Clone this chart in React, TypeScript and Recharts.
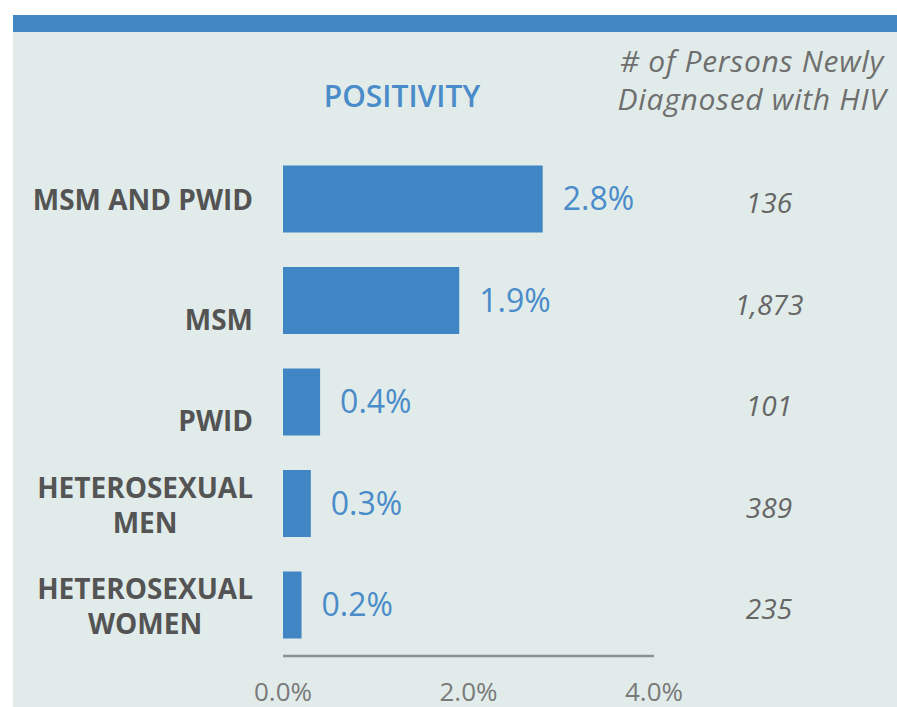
import React from "react";
import { BarChart, Bar, XAxis, YAxis, LabelList } from "recharts";

const categoryLines: string[][] = [
  ["MSM AND PWID"],
  ["", "MSM"],
  ["", "PWID"],
  ["HETEROSEXUAL", "MEN"],
  ["HETEROSEXUAL", "WOMEN"],
];
const positivity: number[] = [2.8, 1.9, 0.4, 0.3, 0.2];
const newlyDiagnosed: string[] = ["136", "1,873", "101", "389", "235"];
const xTicks: number[] = [0, 2, 4];
const headerPositivity = "POSITIVITY";
const headerCount: string[] = ["# of Persons Newly", "Diagnosed with HIV"];

const data = categoryLines.map((lines, i) => ({
  name: lines.join("|"),
  value: positivity[i],
  count: newlyDiagnosed[i],
}));

const FONT = "'Open Sans', 'Noto Sans', sans-serif";
const LABEL_FONT_SIZE = 28;

let ctx: CanvasRenderingContext2D | null = null;
function measure(text: string): number {
  if (!ctx) {
    const c = document.createElement("canvas");
    ctx = c.getContext("2d");
  }
  if (!ctx) return text.length * 18;
  ctx.font = `bold ${LABEL_FONT_SIZE}px 'Open Sans'`;
  return ctx.measureText(text).width;
}

const CategoryTick = (props: any) => {
  const { x, y, payload } = props;
  const lines: string[] = String(payload.value).split("|");
  const right = x - 22;
  const maxW = Math.max(...lines.map((l) => measure(l)));
  const cx = right - maxW / 2;
  const lineH = 35;
  const first = lines.length === 1 ? 11 : -6;
  return (
    <g>
      {lines.map((l, i) => (
        <text
          key={i}
          x={cx}
          y={y + first + i * lineH}
          textAnchor="middle"
          fill="#545454"
          fontFamily={FONT}
          fontWeight={700}
          fontSize={LABEL_FONT_SIZE}
        >
          {l}
        </text>
      ))}
    </g>
  );
};

const CountTick = (props: any) => {
  const { x, y, index } = props;
  return (
    <text
      x={x + 107}
      y={y + 14}
      textAnchor="middle"
      fill="#666666"
      fontFamily={FONT}
      fontStyle="italic"
      fontSize={28}
    >
      {data[index]?.count}
    </text>
  );
};

const XTick = (props: any) => {
  const { x, y, payload } = props;
  return (
    <text
      x={x}
      y={y + 37}
      textAnchor="middle"
      fill="#7a7a7a"
      fontFamily={FONT}
      fontSize={26}
    >
      {`${Number(payload.value).toFixed(1)}%`}
    </text>
  );
};

export default function App() {
  return (
    <div
      style={{
        position: "fixed",
        left: 0,
        top: 0,
        width: 897,
        height: 707,
        background: "#ffffff",
        overflow: "hidden",
      }}
    >
      <div
        style={{
          position: "absolute",
          left: 13,
          top: 15,
          width: 884,
          height: 692,
          background: "#e1ecea",
        }}
      />
      <div
        style={{
          position: "absolute",
          left: 13,
          top: 15,
          width: 884,
          height: 17,
          background: "#4387c5",
        }}
      />
      <svg
        width={897}
        height={707}
        style={{ position: "absolute", left: 0, top: 0 }}
      >
        <text
          x={402}
          y={107}
          textAnchor="middle"
          fill="#4a8bc9"
          fontFamily={FONT}
          fontWeight={600}
          fontSize={30}
        >
          {headerPositivity}
        </text>
        {headerCount.map((t, i) => (
          <text
            key={i}
            x={752}
            y={72 + i * 38}
            textAnchor="middle"
            fill="#6f6f6f"
            fontFamily={FONT}
            fontStyle="italic"
            fontSize={30}
            letterSpacing={0.7}
          >
            {t}
          </text>
        ))}
      </svg>
      <div style={{ position: "absolute", left: 0, top: 0 }}>
        <BarChart
          width={897}
          height={707}
          data={data}
          layout="vertical"
          margin={{ top: 148.5, right: 0, bottom: 1, left: 33 }}
        >
          <XAxis
            type="number"
            domain={[0, 4]}
            ticks={xTicks}
            axisLine={{ stroke: "#8c918f", strokeWidth: 2.5 }}
            tickLine={false}
            tick={<XTick />}
            height={50}
          />
          <YAxis
            yAxisId="left"
            type="category"
            dataKey="name"
            width={250}
            axisLine={false}
            tickLine={false}
            tick={<CategoryTick />}
            interval={0}
          />
          <YAxis
            yAxisId="right"
            orientation="right"
            type="category"
            dataKey="name"
            width={243}
            axisLine={false}
            tickLine={false}
            tick={<CountTick />}
            interval={0}
          />
          <Bar
            yAxisId="left"
            dataKey="value"
            fill="#4186c4"
            barSize={67}
            isAnimationActive={false}
          >
            <LabelList
              dataKey="value"
              position="right"
              offset={20}
              fill="#4a8bc9"
              fontFamily={FONT}
              fontSize={32}
              formatter={(v: any) => `${Number(v).toFixed(1)}%`}
            />
          </Bar>
        </BarChart>
      </div>
    </div>
  );
}
